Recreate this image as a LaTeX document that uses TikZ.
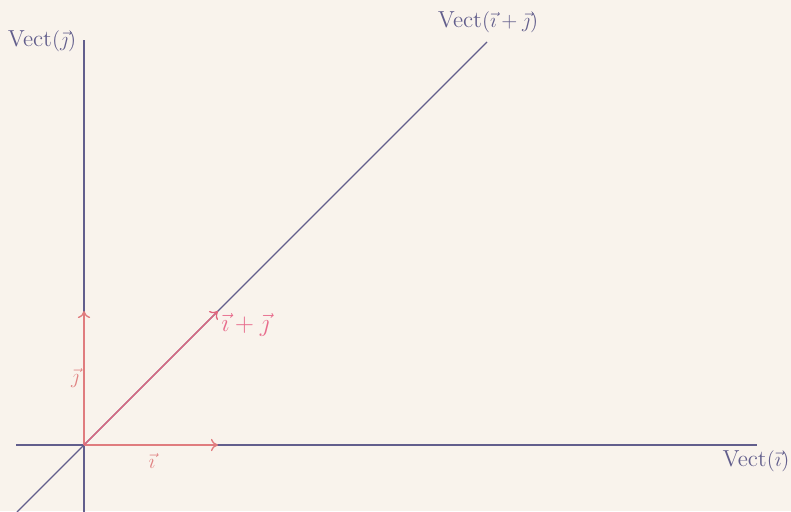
\documentclass[tikz,border=0pt]{standalone}
\usetikzlibrary{arrows.meta}
\definecolor{bg}{HTML}{F9F3EC}
\definecolor{axis}{HTML}{625E8C}
\definecolor{vecc}{HTML}{E07C7E}
\definecolor{sumc}{HTML}{E0647C}
\definecolor{lblc}{HTML}{E08282}
\definecolor{sumlbl}{HTML}{E86C8C}
\tikzset{
  axisline/.style={draw=axis, line width=0.7pt},
  vecarrow/.style={draw=vecc, line width=0.75pt, -{To[length=4pt,width=7pt]}},
  sumarrow/.style={draw=sumc, line width=0.75pt, -{To[length=4pt,width=7pt]}},
  axlabel/.style={text=axis, font=\fontsize{13.2}{16}\selectfont, inner sep=0pt},
  veclabel/.style={text=lblc, font=\fontsize{13.2}{16}\selectfont, inner sep=0pt},
  sumlabel/.style={text=sumlbl, font=\fontsize{14}{17}\selectfont, inner sep=0pt}
}
\begin{document}
\begin{tikzpicture}[x=0.02cm, y=-0.02cm]
\fill[bg] (0,0) rectangle (791,511);
\useasboundingbox (0,0) rectangle (791,511);
\begin{scope}
\clip (0,0) rectangle (791,511);
\coordinate (O) at (84,445);
\coordinate (xl) at (16,445);
\coordinate (xr) at (757,445);
\coordinate (yb) at (84,512);
\coordinate (yt) at (84,40);
\coordinate (dl) at (17,512);
\coordinate (dt) at (487,42);
\coordinate (I) at (218,445);
\coordinate (J) at (84,311);
\coordinate (S) at (218,311);
\draw[axisline] (xl) -- (xr);
\draw[axisline] (yb) -- (yt);
\draw[axisline] (dl) -- (dt);
\draw[vecarrow] (O) -- (I);
\draw[vecarrow] (O) -- (J);
\draw[sumarrow] (O) -- (S);
\end{scope}
\node[axlabel] (lj) at (42,41) {Vect$(\vec{\jmath})$};
\node[axlabel] (lij) at (488,22) {Vect$(\vec{\imath}+\vec{\jmath})$};
\node[axlabel] (li) at (756,461) {Vect$(\vec{\imath})$};
\node[veclabel] (vi) at (152,461) {$\vec{\imath}$};
\node[veclabel] (vj) at (75,378) {$\vec{\jmath}$};
\node[sumlabel, anchor=west] (vs) at (221,325) {$\vec{\imath}+\vec{\jmath}$};
\end{tikzpicture}
\end{document}
